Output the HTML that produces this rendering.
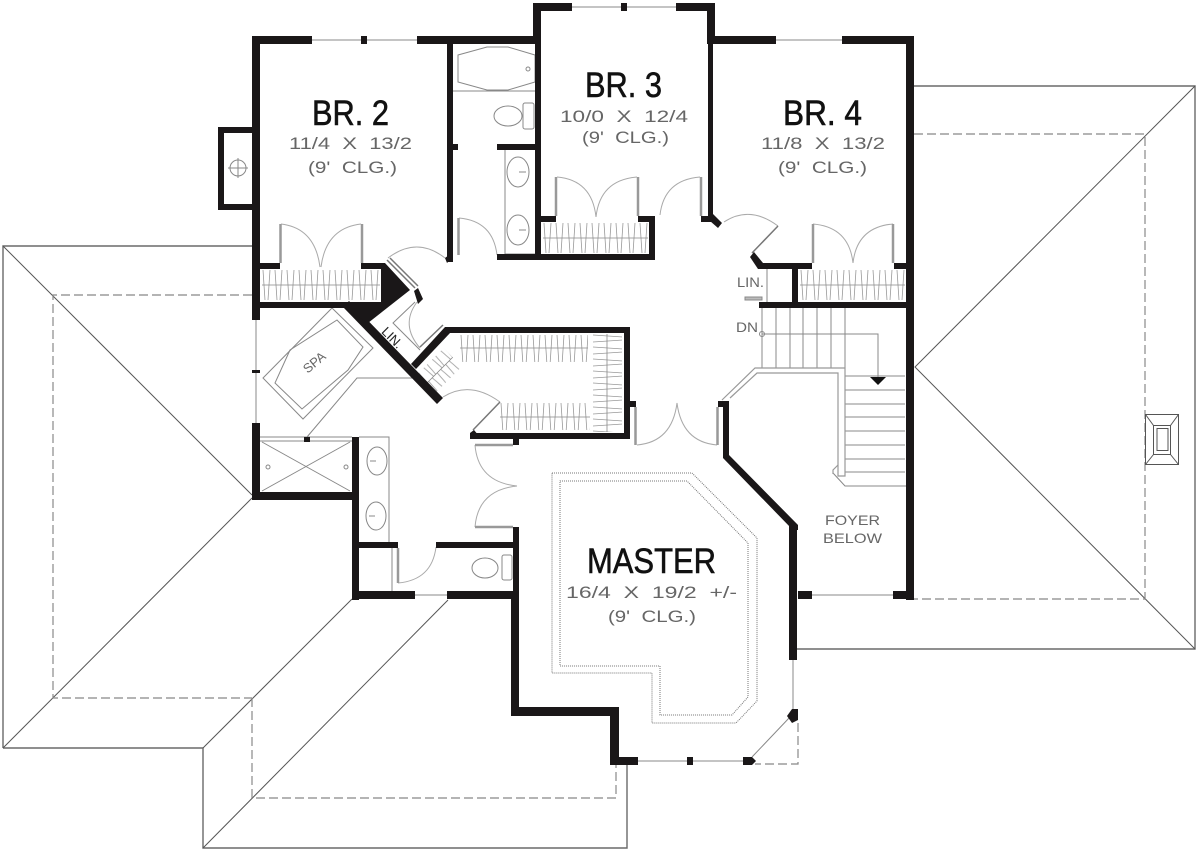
<!DOCTYPE html>
<html><head><meta charset="utf-8"><style>
html,body{margin:0;padding:0;background:#fff;width:1200px;height:851px;overflow:hidden}
svg{display:block}
text{font-family:"Liberation Sans",sans-serif}
.t{fill:#111;font-size:35px;stroke:#111;stroke-width:.6}
.d{fill:#666;font-size:17px}
.s{fill:#666;font-size:14px}
</style></head><body>
<svg width="1200" height="851" viewBox="0 0 1200 851" xmlns="http://www.w3.org/2000/svg">
<defs>
<pattern id="hv" patternUnits="userSpaceOnUse" width="12" height="30"><path d="M1 0L3 30M8 0L6 30" stroke="#999" stroke-width=".8" fill="none"/></pattern>
<pattern id="hh" patternUnits="userSpaceOnUse" width="30" height="12"><path d="M0 1L30 3M0 8L30 6" stroke="#999" stroke-width=".8" fill="none"/></pattern>
</defs>

<!-- roof -->
<g fill="none" stroke="#6a6a6a" stroke-width="1.400">
<path d="M914 86H1195V649H797"/>
<path d="M3 748V246H252"/>
<path d="M3 748H203V848H627V765"/>
</g>
<g fill="none" stroke="#555" stroke-width="1">
<path d="M1195 86L915 367L1195 649"/>
<path d="M3 246L252 495"/>
<path d="M3 748L252 498"/>
<path d="M203 748L352 599"/>
<path d="M203 848L448 600"/>
</g>
<g fill="none" stroke="#888" stroke-width="1.200" stroke-dasharray="9 4">
<path d="M914 134H1145V599H914"/>
<path d="M252 295H53V698H252"/>
<path d="M252 698V798H616V765"/>
<path d="M798 723V764H755" />
</g>
<g fill="none" stroke="#555" stroke-width="1">
<rect x="1145.500" y="414.500" width="33" height="50"/>
<rect x="1153.500" y="425.500" width="17" height="29"/>
<rect x="1157" y="428.500" width="11" height="22"/>
<path d="M1145.500 414.500L1153.500 425.500M1178.500 414.500L1170.500 425.500M1145.500 464.500L1153.500 454.500M1178.500 464.500L1170.500 454.500"/>
</g>

<!-- hangers -->
<g stroke="#888" stroke-width=".8" fill="none">
<g transform="translate(262,270)"><rect width="118" height="30" fill="url(#hv)" stroke="none"/><path d="M0 15H118"/></g>
<g transform="translate(543,223)"><rect width="105" height="30" fill="url(#hv)" stroke="none"/><path d="M0 15H105"/></g>
<g transform="translate(800,270)"><rect width="105" height="30" fill="url(#hv)" stroke="none"/><path d="M0 15H105"/></g>
<g transform="translate(460,335)"><rect width="128" height="27" fill="url(#hv)" stroke="none"/><path d="M0 13H128"/></g>
<g transform="translate(500,403)"><rect width="90" height="27" fill="url(#hv)" stroke="none"/><path d="M0 14H90"/></g>
<g transform="translate(593,334)"><rect width="29" height="98" fill="url(#hh)" stroke="none"/><path d="M14 0V98"/></g>
<g transform="translate(440,370) rotate(-45)"><rect x="-18" y="-13" width="36" height="26" fill="url(#hv)" stroke="none"/><path d="M-18 0H18"/></g>
</g>

<!-- thin fixtures -->
<g fill="none" stroke="#888" stroke-width="1">
<path d="M312 40H361M367 40H417M572 7H621M627 7H676M776 40H842M812 595H893"/>
<path d="M638 761H687M693 761H743M415 595H447M256 320V370M256 373V423"/>
<path d="M793 660V712M752 757L790 717"/>
<path d="M453 91H535"/>
<path d="M458 55L487 47H508L535 55V82L508 90H487L458 82Z"/>
<circle cx="528" cy="69" r="2"/>
<ellipse cx="508" cy="116" rx="14" ry="10"/><rect x="523" y="103" width="11" height="26" rx="2"/>
<path d="M505 150V254M535 254H505"/>
<ellipse cx="518" cy="172" rx="11" ry="15"/><ellipse cx="518" cy="230" rx="11" ry="15"/>
<path d="M519 172H526M519 230H526"/>
<circle cx="238" cy="168" r="8"/><path d="M228 168H248M238 158V178"/>
<path d="M767 268V302"/>
<rect x="745" y="297" width="17" height="3" fill="#bbb"/>
<!-- spa -->
<path d="M263 378L332 308L373 348L303 419Z"/>
<path d="M275 383L290 350L337 320L363 347L348 370L302 409Z"/>
<path d="M307 437L357 378H413"/>
<!-- shower -->
<path d="M260 437H352M260 441H352M262 442L350 491M350 442L262 491"/>
<circle cx="268" cy="467" r="2"/><circle cx="346" cy="467" r="2"/>
<!-- vanity -->
<path d="M359 437H389V542"/>
<ellipse cx="377" cy="461" rx="10" ry="14"/><ellipse cx="376" cy="516" rx="10" ry="14"/>
<path d="M370 461H376M369 516H375"/>
<path d="M392 548V591"/>
<ellipse cx="485" cy="568" rx="13" ry="10"/><rect x="502" y="555" width="10" height="25" rx="2"/>
<!-- LIN -->
<path d="M415 302L393 323L420 350"/>
<!-- stairs -->
<path d="M762 308V368M776 308V368M790 308V368M803 308V368M817 308V368M831 308V368M845 308V368"/>
<path d="M845 376H905M845 390H905M845 404H905M845 417H905M845 431H905M845 445H905M845 459H905M845 472H905M833 473L845 486H906"/>
<path d="M762 334H878V378"/>
<circle cx="762" cy="334" r="2.500"/>
</g>
<g fill="none" stroke="#999" stroke-width="1.200">
<path d="M722 400L755 368H845V476H838V373H757L730 398"/>
<path d="M838 465L833 470V474"/>
</g>
<path d="M870 377H886L878 385Z" fill="#111"/>

<!-- dotted tray -->
<g fill="none" stroke="#777" stroke-width="1" stroke-dasharray="1 1">
<path d="M552 473H692L757 538V701L736 723H652V673H552Z"/>
<path d="M560 481H687L748 543V697L732 715H660V666H560Z"/>
</g>

<!-- door arcs -->
<g fill="none" stroke="#aaa" stroke-width="1">
<path d="M281 224Q315 228 320 267M361 224Q326 228 321 267"/>
<path d="M557 177Q592 180 596 217M637 177Q600 180 596 217M700 177Q664 180 660 215"/>
<path d="M813 224Q849 227 853 263M893 224Q857 227 853 263"/>
<path d="M459 218Q493 221 497 255"/>
<path d="M388 258Q417 236 445 258"/>
<path d="M724 222Q750 205 778 226"/>
<path d="M417 302Q400 325 420 348"/>
<path d="M443 397Q470 380 500 402"/>
<path d="M475 445Q478 482 517 486M475 527Q478 490 517 486"/>
<path d="M398 583Q432 580 436 547"/>
<path d="M637 445Q672 442 677 403M717 445Q682 442 677 403"/>
</g>
<!-- jambs -->
<g fill="none" stroke="#999" stroke-width="2.500">
<path d="M280.500 224V263M362 224V263M556 177V216M638 177V216M701 177V216M813 224V263M893 224V263M458.500 218V255"/>
<path d="M398 548V583M475 445H513M475 527H513M635.500 407V445M717.500 407V445"/>
</g>
<g fill="none" stroke="#777" stroke-width="1.500">
<path d="M387 260L415 288M390 258L418 286M778 226L752 253M500 402L473 430M420 347L443 325"/>
</g>

<!-- walls -->
<path fill="#1a1718" d="
M252 36H312V44H252Z M361 36H367V44H361Z M417 36H535V44H417Z
M533 3H572V11H533Z M621 3H627V11H621Z M676 3H715V11H676Z
M533 3H541V44H533Z M535 44H541V260H535Z M707 3H715V44H707Z M708 44H713V216H708Z
M713 36H776V44H713Z M842 36H914V44H842Z M906 36H914V600H906Z
M447 44H453V262H447Z M453 144H458V150H453Z M497 144H535V150H497Z
M497 254H655V260H497Z M649 216H655V260H649Z M638 216H655V222H638Z M541 216H556V222H541Z M701 216H713V222H701Z
M252 36H260V320H252Z M218 127H252V133H218Z M218 127H224V210H218Z M218 204H252V210H218Z
M260 263H280V269H260Z M361 263H385V269H361Z M260 302H345V308H260Z
M760 263H812V269H760Z M894 263H906V269H894Z M792 268H798V302H792Z M759 302H906V308H759Z
M252 423H260V500H252Z M252 370H260V373H252Z M252 492H359V500H252Z M352 437H359V600H352Z
M359 542H398V548H359Z M436 542H519V548H436Z M352 591H415V599H352Z M447 591H519V599H447Z
M513 527H519V600H513Z M511 599H519V716H511Z M511 707H619V716H511Z M610 707H619V765H610Z M610 757H638V765H610Z
M687 757H693V765H687Z M789 524H797V660H789Z
M304 437H310V442H304Z M513 439H519V445H513Z M630 401H636V407H630Z M718 401H729V407H718Z M798 591H812V599H798Z M893 591H906V599H893Z
M445 327H630V333H445Z M624 327H630V439H624Z M470 433H630V439H470Z
M723 401H729V458H723Z"/>
<g fill="#1a1718">
<polygon points="708,216 713,214 722,223 718,228 710,221"/>
<polygon points="750,257 754,252 763,263 763,269 758,269"/>
<polygon points="343,307 437,404 443,398 349,301"/>
<polygon points="411,364 445,327 450,333 416,369"/>
<polygon points="381,263 385,263 410,290 368,323 343,307 345,302 381,302"/>
<polygon points="414,291 418,288 423,299 418,304"/>
<polygon points="445,258 449,255 451,259 447,263"/>
<polygon points="470,433 474,430 479,436 474,439"/>
<polygon points="723,458 729,455 798,525 798,530 790,530 790,527"/>
<polygon points="743,757 752,757 756,761 752,765 743,765"/>
<polygon points="787,716 792,709 798,709 798,720 792,723"/>
</g>

<!-- labels -->
<text class="t" x="312" y="125" textLength="77" lengthAdjust="spacingAndGlyphs">BR.&#160;2</text>
<text class="t" x="585" y="97" textLength="77" lengthAdjust="spacingAndGlyphs">BR.&#160;3</text>
<text class="t" x="783" y="125" textLength="79" lengthAdjust="spacingAndGlyphs">BR.&#160;4</text>
<text class="t" x="587" y="573" textLength="129" lengthAdjust="spacingAndGlyphs">MASTER</text>
<text class="d" x="289" y="149" textLength="123" lengthAdjust="spacingAndGlyphs">11/4&#160;&#160;X&#160;&#160;13/2</text>
<text class="d" x="308" y="173" textLength="89" lengthAdjust="spacingAndGlyphs">(9'&#160;&#160;CLG.)</text>
<text class="d" x="560" y="122" textLength="128" lengthAdjust="spacingAndGlyphs">10/0&#160;&#160;X&#160;&#160;12/4</text>
<text class="d" x="582" y="143" textLength="87" lengthAdjust="spacingAndGlyphs">(9'&#160;&#160;CLG.)</text>
<text class="d" x="761" y="149" textLength="124" lengthAdjust="spacingAndGlyphs">11/8&#160;&#160;X&#160;&#160;13/2</text>
<text class="d" x="778" y="173" textLength="89" lengthAdjust="spacingAndGlyphs">(9'&#160;&#160;CLG.)</text>
<text class="d" x="566" y="598" textLength="171" lengthAdjust="spacingAndGlyphs">16/4&#160;&#160;X&#160;&#160;19/2&#160;&#160;+/-</text>
<text class="d" x="608" y="622" textLength="88" lengthAdjust="spacingAndGlyphs">(9'&#160;&#160;CLG.)</text>
<text class="s" x="825" y="525" textLength="55" lengthAdjust="spacingAndGlyphs">FOYER</text>
<text class="s" x="823" y="543" textLength="59" lengthAdjust="spacingAndGlyphs">BELOW</text>
<text class="s" x="737" y="287" textLength="27" lengthAdjust="spacingAndGlyphs">LIN.</text>
<text class="s" x="736" y="332" textLength="22" lengthAdjust="spacingAndGlyphs">DN</text>
<text class="s" transform="translate(314,362) rotate(-40)" text-anchor="middle" y="5" style="font-size:13px">SPA</text>
<text class="s" transform="translate(392,338) rotate(45)" text-anchor="middle" y="4" style="font-size:13px;fill:#222">LIN.</text>
</svg>
</body></html>
